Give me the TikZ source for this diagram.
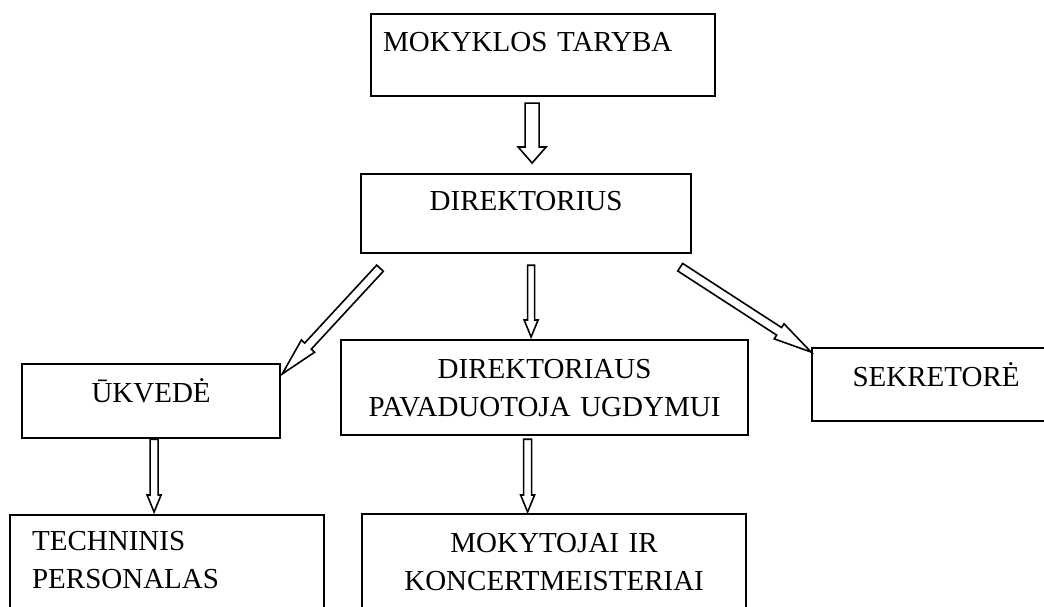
\documentclass[tikz,border=0pt]{standalone}
\usepackage{fontspec}
\setmainfont{Liberation Serif}
\usetikzlibrary{calc}

\begin{document}
\begin{tikzpicture}[x = 1pt, y = -1pt, font=\fontsize{29}{38}\selectfont]
	\tikzstyle{boxStyle}=[shape = rectangle, draw, line width = 2.2pt, inner sep = 0pt, anchor = north west, text height = 20pt]
	\tikzstyle{arrowStyle}=[draw, line width = 1.6pt, line join = miter]
	\tikzset{hollowArrow/.style n args = {3}{to path = {
		($(\tikztostart)!#1!90:(\tikztotarget)$) --
		($(\tikztotarget)!#3!(\tikztostart)!#1!-90:(\tikztostart)$) --
		($(\tikztotarget)!#3!(\tikztostart)!#2!-90:(\tikztostart)$) --
		(\tikztotarget) --
		($(\tikztotarget)!#3!(\tikztostart)!#2!90:(\tikztostart)$) --
		($(\tikztotarget)!#3!(\tikztostart)!#1!90:(\tikztostart)$) --
		($(\tikztostart)!#1!-90:(\tikztotarget)$) -- cycle}}}
	\useasboundingbox (0,0) rectangle (1044,607);
	\clip (0,0) rectangle (1044,607);
	% boxes
	\node[boxStyle, minimum width = 344pt, minimum height = 82pt, inner xsep = 12pt, text width = 320pt, align = left, text depth = 26.8pt] (taryba) at (370,13) {MOKYKLOS TARYBA};
	\node[boxStyle, minimum width = 330pt, minimum height = 79pt, text width = 330pt, align = center, text depth = 25.8pt] (direktorius) at (360,173) {DIREKTORIUS};
	\node[boxStyle, minimum width = 258pt, minimum height = 74pt, text width = 258pt, align = center, text depth = 16.8pt] (ukvede) at (21,363) {ŪKVEDĖ};
	\node[boxStyle, minimum width = 407pt, minimum height = 95pt, text width = 407pt, align = center, text depth = 37.8pt] (pav) at (340,339) {DIREKTORIAUS\\PAVADUOTOJA UGDYMUI};
	\node[boxStyle, minimum width = 248pt, minimum height = 73pt, text width = 248pt, align = center, text depth = 15.8pt] (sekretore) at (811,347) {SEKRETORĖ};
	\node[boxStyle, minimum width = 314pt, minimum height = 110pt, inner xsep = 22pt, text width = 270pt, align = left, text depth = 58.8pt] (technis) at (9,514) {TECHNINIS\\PERSONALAS};
	\node[boxStyle, minimum width = 384pt, minimum height = 110pt, text width = 384pt, align = center, text depth = 52.8pt] (mokytojai) at (361,513) {MOKYTOJAI IR\\KONCERTMEISTERIAI};
	% arrow ends
	\coordinate (a1s) at ($(taryba.south -| direktorius.north)+(6,6)$);
	\coordinate (a1e) at ($(direktorius.north)+(6,-10)$);
	\coordinate (a2s) at ($(direktorius.south)+(5,11)$);
	\coordinate (a2e) at ($(pav.north -| direktorius.south)+(5,-2)$);
	\coordinate (a3s) at ($(pav.south)+(-17,3)$);
	\coordinate (a3e) at ($(mokytojai.north -| pav.south)+(-17,-1)$);
	\coordinate (a4s) at ($(ukvede.south)+(3,0)$);
	\coordinate (a4e) at ($(technis.north -| ukvede.south)+(3,-2)$);
	\coordinate (a5s) at ($(direktorius.south west)+(20,14)$);
	\coordinate (a5e) at ($(ukvede.north east)+(1,11)$);
	\coordinate (a6s) at ($(direktorius.south east)+(-12,13)$);
	\coordinate (a6e) at ($(sekretore.north west)+(0,5)$);
	% arrows
	\path[arrowStyle] (a1s) to[hollowArrow = {7pt}{14pt}{16pt}] (a1e);
	\path[arrowStyle] (a2s) to[hollowArrow = {3.5pt}{7pt}{17pt}] (a2e);
	\path[arrowStyle] (a3s) to[hollowArrow = {4pt}{7pt}{17pt}] (a3e);
	\path[arrowStyle] (a4s) to[hollowArrow = {4pt}{7pt}{17pt}] (a4e);
	\path[arrowStyle] (a5s) to[hollowArrow = {4.5pt}{9pt}{38pt}] (a5e);
	\path[arrowStyle] (a6s) to[hollowArrow = {4.5pt}{9pt}{38pt}] (a6e);
\end{tikzpicture}
\end{document}
